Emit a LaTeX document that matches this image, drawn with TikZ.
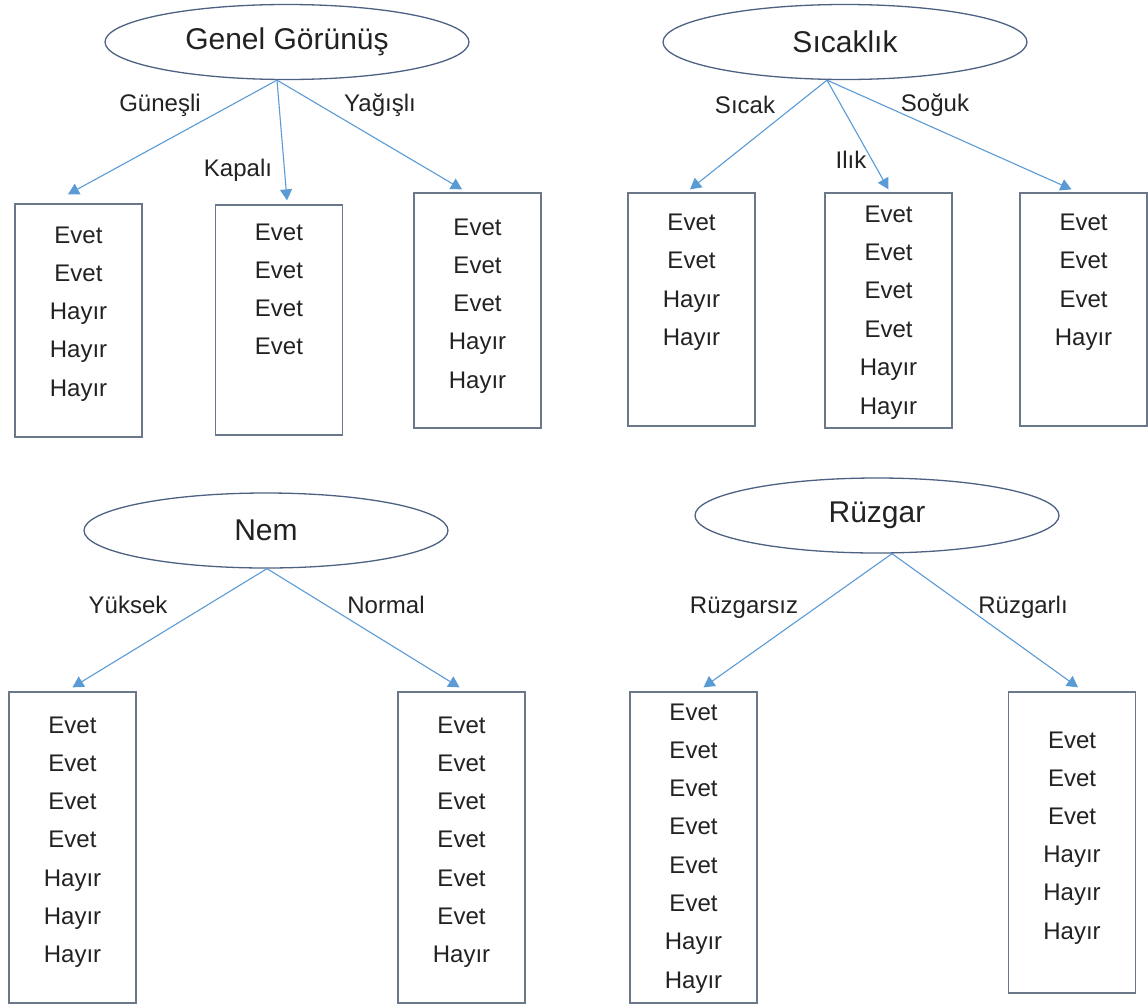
\documentclass[tikz,border=0pt]{standalone}
\usepackage{fontspec}
\setmainfont{Liberation Sans}
\usetikzlibrary{shapes.geometric,arrows.meta}
\definecolor{ellline}{HTML}{4D6283}
\definecolor{boxline}{HTML}{6B788A}
\definecolor{arrowblue}{HTML}{5B9BD5}
\definecolor{ink}{HTML}{222222}
\begin{document}
\begin{tikzpicture}[x=1pt,y=-1pt,
  attr/.style={ellipse,draw=ellline,line width=1.3pt,minimum width=364pt,minimum height=75pt,
    inner sep=0pt,font=\fontsize{30}{35}\selectfont,text=ink},
  leaf/.style={draw=boxline,line width=1.3pt,minimum width=127pt,inner sep=0pt},
  branch/.style={draw=arrowblue,line width=1.1pt,-{Triangle[length=11pt,width=12pt]}},
  lbl/.style={font=\fontsize{24}{28}\selectfont,text=ink,anchor=base,inner sep=0pt},
  item/.style={lbl}]
\fill[white] (0,0) rectangle (1148,1007);
\useasboundingbox (0,0) rectangle (1148,1007);

% ---------- Genel Görünüş ----------
\node[attr] (gA) at (287,42) {Genel Görünüş};
\coordinate (oA) at ([xshift=-10pt]gA.south);
\node[leaf,minimum height=233pt] (a1) at (78.5,320.5) {};
\node[leaf,minimum height=230pt] (a2) at (279,320) {};
\node[leaf,minimum height=235pt] (a3) at (477.5,310.5) {};
\foreach \w [count=\i] in {Evet,Evet,Hayır,Hayır,Hayır}
  \node[item] (a1-\i) at (78.5,{243+38.3*(\i-1)}) {\w};
\foreach \w [count=\i] in {Evet,Evet,Evet,Evet}
  \node[item] (a2-\i) at (279,{240+38.3*(\i-1)}) {\w};
\foreach \w [count=\i] in {Evet,Evet,Evet,Hayır,Hayır}
  \node[item] (a3-\i) at (477.5,{235+38.3*(\i-1)}) {\w};
\draw[branch] (oA) -- ([xshift=-10.5pt,yshift=9pt]a1.north);
\draw[branch] (oA) -- ([xshift=8pt,yshift=4pt]a2.north);
\draw[branch] (oA) -- ([xshift=-15.5pt,yshift=3pt]a3.north);
\node[lbl] (lA1) at (160,111) {Güneşli};
\node[lbl] (lA2) at (238,176) {Kapalı};
\node[lbl] (lA3) at (380,111) {Yağışlı};

% ---------- Sıcaklık ----------
\node[attr] (gB) at (845,42) {Sıcaklık};
\coordinate (oB) at ([xshift=-18pt]gB.south);
\node[leaf,minimum height=233pt] (b1) at (691.5,309.5) {};
\node[leaf,minimum height=235pt] (b2) at (888.5,310.5) {};
\node[leaf,minimum height=233pt] (b3) at (1083.5,309.5) {};
\foreach \w [count=\i] in {Evet,Evet,Hayır,Hayır}
  \node[item] (b1-\i) at (691.5,{230+38.6*(\i-1)}) {\w};
\foreach \w [count=\i] in {Evet,Evet,Evet,Evet,Hayır,Hayır}
  \node[item] (b2-\i) at (888.5,{222+38.4*(\i-1)}) {\w};
\foreach \w [count=\i] in {Evet,Evet,Evet,Hayır}
  \node[item] (b3-\i) at (1083.5,{230+38.6*(\i-1)}) {\w};
\draw[branch] (oB) -- ([xshift=-1.5pt,yshift=3pt]b1.north);
\draw[branch] (oB) -- ([yshift=3pt]b2.north);
\draw[branch] (oB) -- ([xshift=-12pt,yshift=3pt]b3.north);
\node[lbl] (lB1) at (745,113) {Sıcak};
\node[lbl] (lB2) at (851,168) {Ilık};
\node[lbl] (lB3) at (935,111) {Soğuk};

% ---------- Nem ----------
\node[attr] (gC) at (266,530.5) {Nem};
\coordinate (oC) at ([xshift=1pt]gC.south);
\node[leaf,minimum height=311pt] (c1) at (72.5,847.5) {};
\node[leaf,minimum height=311pt] (c2) at (461.5,847.5) {};
\foreach \w [count=\i] in {Evet,Evet,Evet,Evet,Hayır,Hayır,Hayır}
  \node[item] (c1-\i) at (72.5,{733+38.3*(\i-1)}) {\w};
\foreach \w [count=\i] in {Evet,Evet,Evet,Evet,Evet,Evet,Hayır}
  \node[item] (c2-\i) at (461.5,{733+38.3*(\i-1)}) {\w};
\draw[branch] (oC) -- ([yshift=4pt]c1.north);
\draw[branch] (oC) -- ([xshift=-2pt,yshift=4pt]c2.north);
\node[lbl] (lC1) at (128,613) {Yüksek};
\node[lbl] (lC2) at (386,613) {Normal};

% ---------- Rüzgar ----------
\node[attr] (gD) at (877,515.5) {Rüzgar};
\coordinate (oD) at ([xshift=15pt]gD.south);
\node[leaf,minimum height=311pt] (d1) at (693.5,847.5) {};
\node[leaf,minimum height=301pt] (d2) at (1072,842.5) {};
\foreach \w [count=\i] in {Evet,Evet,Evet,Evet,Evet,Evet,Hayır,Hayır}
  \node[item] (d1-\i) at (693.5,{720+38.3*(\i-1)}) {\w};
\foreach \w [count=\i] in {Evet,Evet,Evet,Hayır,Hayır,Hayır}
  \node[item] (d2-\i) at (1072,{748+38.2*(\i-1)}) {\w};
\draw[branch] (oD) -- ([xshift=10pt,yshift=4pt]d1.north);
\draw[branch] (oD) -- ([xshift=6pt,yshift=4pt]d2.north);
\node[lbl] (lD1) at (744,613) {Rüzgarsız};
\node[lbl] (lD2) at (1023,613) {Rüzgarlı};
\end{tikzpicture}
\end{document}
